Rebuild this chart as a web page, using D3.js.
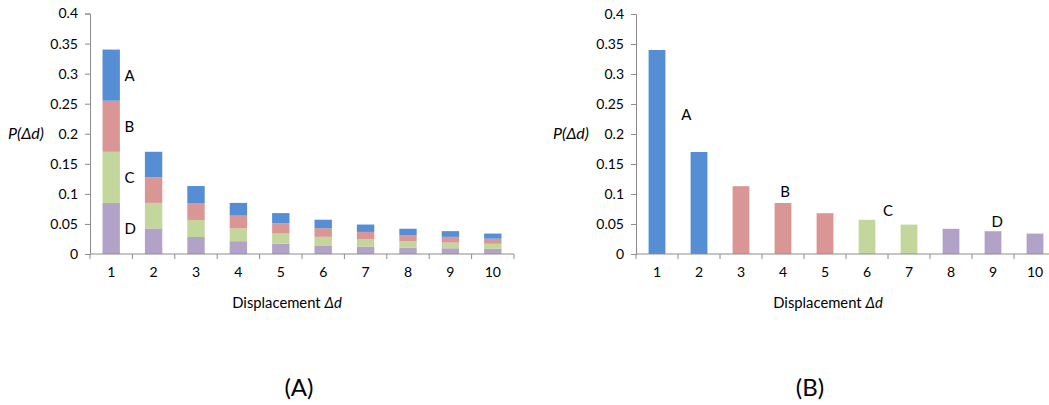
<!DOCTYPE html>
<html>
<head>
<meta charset="utf-8">
<script src="https://cdn.jsdelivr.net/npm/d3@7"></script>
<style>
  html, body { margin: 0; padding: 0; background: #fff; }
  svg { display: block; font-family: Lato, "Open Sans", sans-serif; }
</style>
</head>
<body>
<svg id="chart" width="1049" height="405"></svg>
<script>
// Displacement categories (Δd = 1..10)
const categories = ["1", "2", "3", "4", "5", "6", "7", "8", "9", "10"];

// Total probability per displacement
const totals = [0.34, 0.17, 0.113, 0.085, 0.068, 0.057, 0.049, 0.042, 0.038, 0.034];

// Stacked components (panel A), bottom to top: D, C, B, A
const seriesD = [0.085, 0.0425, 0.0283, 0.0213, 0.017, 0.0143, 0.0122, 0.0105, 0.0095, 0.0085];
const seriesC = [0.085, 0.0425, 0.0283, 0.0213, 0.017, 0.0143, 0.0122, 0.0105, 0.0095, 0.0085];
const seriesB = [0.085, 0.0425, 0.0282, 0.0212, 0.017, 0.0142, 0.0123, 0.0105, 0.0095, 0.0085];
const seriesA = [0.085, 0.0425, 0.0282, 0.0212, 0.017, 0.0142, 0.0123, 0.0105, 0.0095, 0.0085];
const seriesNames = ["D", "C", "B", "A"];

// Group membership of each displacement (panel B)
const groupOf = ["A", "A", "B", "B", "B", "C", "C", "D", "D", "D"];
const groupNames = ["A", "B", "C", "D"];

// Y axis ticks
const yTicks = [0, 0.05, 0.1, 0.15, 0.2, 0.25, 0.3, 0.35, 0.4];
const yTickLabels = ["0", "0.05", "0.1", "0.15", "0.2", "0.25", "0.3", "0.35", "0.4"];

// Group label anchors in panel B: [category position, value]
const groupLabelPos = [[1.7, 0.232], [4.05, 0.105], [6.5, 0.072], [9.1, 0.055]];

const colors = { A: "#558ed5", B: "#d99694", C: "#c3d69b", D: "#b3a2c7" };
const axisColor = "#8c8c8c";
const textColor = "#000";

const svg = d3.select("#chart");

function drawFrame(g, x, y, x0, x1) {
  // y axis
  const yAxis = d3.axisLeft(y).tickValues(yTicks)
    .tickFormat((d, i) => yTickLabels[i]).tickSize(5).tickPadding(7);
  const ya = g.append("g").attr("transform", `translate(${x0},0)`).call(yAxis);
  ya.select(".domain").attr("stroke", axisColor);
  ya.selectAll(".tick line").attr("stroke", axisColor);
  ya.selectAll(".tick text").attr("fill", textColor)
    .style("font-size", "14px").style("font-family", "Lato, sans-serif");

  // x axis: ticks on category boundaries, labels at band centres
  const xa = g.append("g").attr("transform", `translate(0,${y(0)})`);
  xa.append("line").attr("x1", x0).attr("x2", x1).attr("stroke", axisColor);
  const edges = categories.map(c => x(c)).concat([x1]);
  xa.selectAll("line.tk").data(edges).join("line").attr("class", "tk")
    .attr("x1", d => d).attr("x2", d => d).attr("y1", 0).attr("y2", 5)
    .attr("stroke", axisColor);
  xa.selectAll("text").data(categories).join("text")
    .attr("x", d => x(d) + x.bandwidth() / 2).attr("y", 23)
    .attr("text-anchor", "middle").attr("fill", textColor)
    .style("font-size", "14px").text(d => d);
}

function axisTitles(g, cx, yLabelX, y) {
  const t = g.append("text").attr("x", cx).attr("y", 308)
    .attr("text-anchor", "middle").attr("fill", textColor).style("font-size", "14.8px");
  t.append("tspan").text("Displacement ");
  t.append("tspan").style("font-style", "italic").text("Δd");

  const p = g.append("text").attr("x", yLabelX).attr("y", y(0.2) + 5)
    .attr("fill", textColor).style("font-size", "16px").style("font-style", "italic");
  p.text("P(Δd)");
}

// ---------- Panel (A): stacked bars ----------
{
  const g = svg.append("g");
  const x0 = 90, x1 = 514;
  const x = d3.scaleBand().domain(categories).range([x0, x1]).paddingInner(0.59).paddingOuter(0.295);
  const band = d3.scaleBand().domain(categories).range([x0, x1]);
  const y = d3.scaleLinear().domain([0, 0.4]).range([254, 13.5]);

  const rows = categories.map((c, i) => ({
    cat: c, D: seriesD[i], C: seriesC[i], B: seriesB[i], A: seriesA[i]
  }));
  const stacked = d3.stack().keys(seriesNames)(rows);

  g.selectAll("g.layer").data(stacked).join("g").attr("class", "layer")
    .attr("fill", d => colors[d.key])
    .selectAll("rect").data(d => d).join("rect")
    .attr("x", d => x(d.data.cat))
    .attr("width", x.bandwidth())
    .attr("y", d => y(d[1]))
    .attr("height", d => y(d[0]) - y(d[1]));

  drawFrame(g, band, y, x0, x1);
  axisTitles(g, 287, 8, y);

  // Series labels beside the first bar
  g.selectAll("text.series").data(stacked).join("text").attr("class", "series")
    .attr("x", x(categories[0]) + x.bandwidth() + 4.5)
    .attr("y", d => y((d[0][0] + d[0][1]) / 2) + 5.5)
    .attr("fill", textColor).style("font-size", "15px")
    .text(d => d.key);

  g.append("text").attr("x", 299).attr("y", 396).attr("text-anchor", "middle")
    .attr("fill", textColor).style("font-size", "24px").text("(A)");
}

// ---------- Panel (B): bars coloured by group ----------
{
  const g = svg.append("g");
  const x0 = 636, x1 = 1056;
  const x = d3.scaleBand().domain(categories).range([x0, x1]).paddingInner(0.6).paddingOuter(0.3);
  const band = d3.scaleBand().domain(categories).range([x0, x1]);
  const y = d3.scaleLinear().domain([0, 0.4]).range([254, 14]);
  const pos = d3.scaleLinear().domain([1, 10]).range([x0 + band.bandwidth() / 2, x1 - band.bandwidth() / 2]);

  g.selectAll("rect").data(totals).join("rect")
    .attr("x", (d, i) => x(categories[i]))
    .attr("width", x.bandwidth())
    .attr("y", d => y(d))
    .attr("height", d => y(0) - y(d))
    .attr("fill", (d, i) => colors[groupOf[i]]);

  drawFrame(g, band, y, x0, x1);
  axisTitles(g, 828, 553, y);

  g.selectAll("text.group").data(groupNames).join("text").attr("class", "group")
    .attr("x", (d, i) => pos(groupLabelPos[i][0]))
    .attr("y", (d, i) => y(groupLabelPos[i][1]) + 5.5)
    .attr("text-anchor", "middle").attr("fill", textColor).style("font-size", "15px")
    .text(d => d);

  g.append("text").attr("x", 810).attr("y", 396).attr("text-anchor", "middle")
    .attr("fill", textColor).style("font-size", "24px").text("(B)");
}
</script>
</body>
</html>
